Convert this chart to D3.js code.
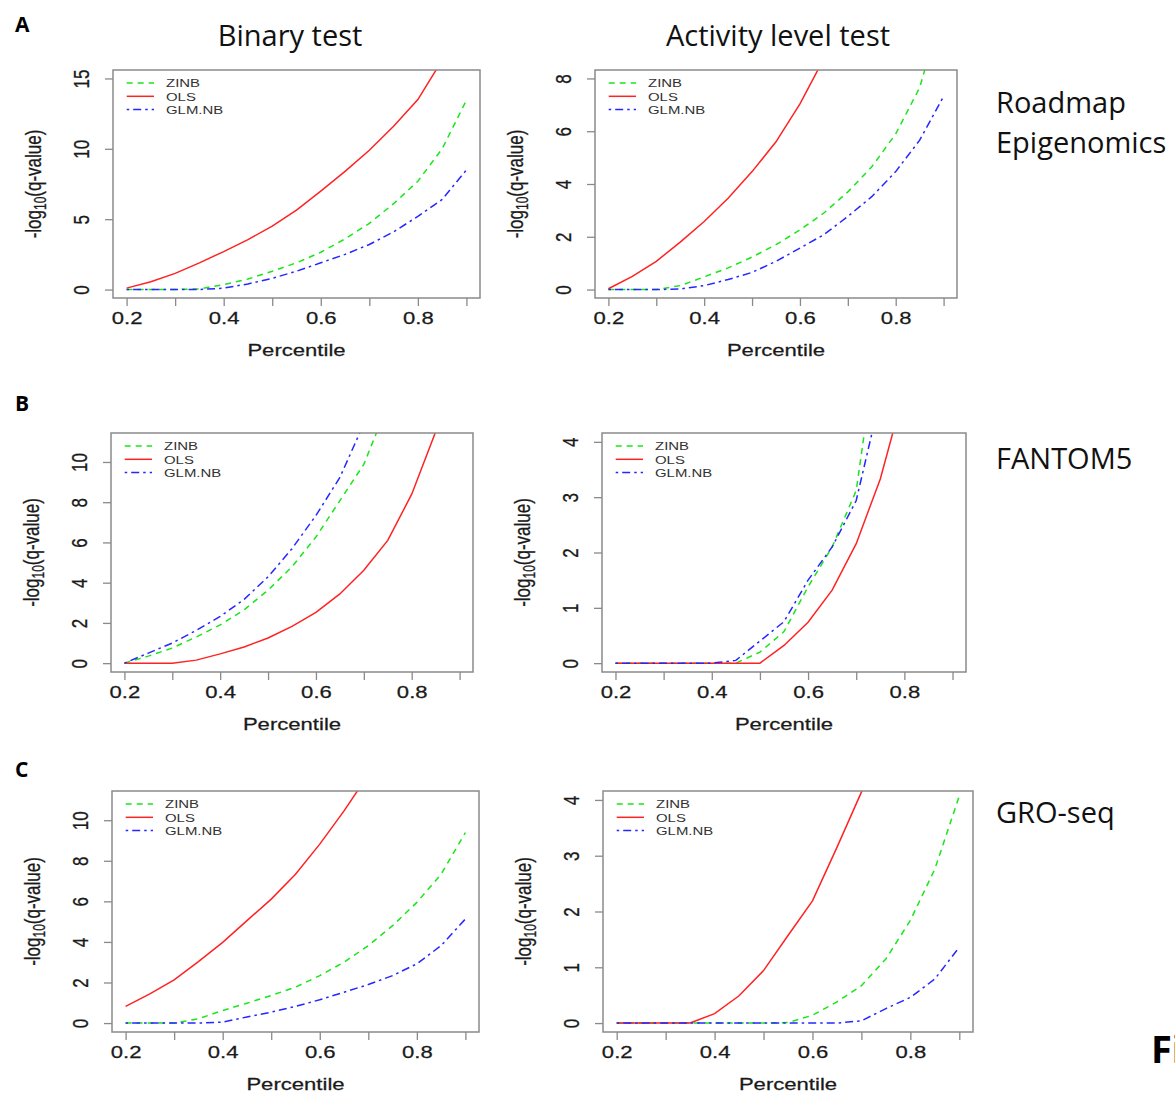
<!DOCTYPE html>
<html>
<head>
<meta charset="utf-8">
<script src="https://cdn.jsdelivr.net/npm/d3@7"></script>
<style>
body { margin: 0; background: #fff; }
</style>
</head>
<body>
<svg></svg>
<script>
// x values shared by every panel
var percentile = [0.2, 0.25, 0.3, 0.35, 0.4, 0.45, 0.5, 0.55, 0.6, 0.65, 0.7, 0.75, 0.8, 0.85, 0.9];
var xTicks = [0.2, 0.3, 0.4, 0.5, 0.6, 0.7, 0.8, 0.9];
var methods = ["ZINB", "OLS", "GLM.NB"];
var colTitles = ["Binary test", "Activity level test"];
var rowLetters = ["A", "B", "C"];
var rowNames = [["Roadmap", "Epigenomics"], ["FANTOM5"], ["GRO-seq"]];

// Roadmap Epigenomics
var roadmapBinaryZINB = [0, 0, 0, 0.05, 0.35, 0.75, 1.3, 1.9, 2.65, 3.6, 4.7, 6.1, 7.7, 10.0, 13.45];
var roadmapBinaryOLS  = [0.1, 0.55, 1.15, 1.9, 2.7, 3.55, 4.5, 5.65, 7.0, 8.4, 9.9, 11.6, 13.5, 16.3, 19.5];
var roadmapBinaryGLM  = [0, 0, 0, 0, 0.1, 0.4, 0.8, 1.3, 1.9, 2.5, 3.2, 4.1, 5.2, 6.4, 8.5];
var roadmapActivityZINB = [0, 0, 0, 0.15, 0.48, 0.82, 1.23, 1.7, 2.26, 2.9, 3.7, 4.65, 5.9, 7.65, 10.8];
var roadmapActivityOLS  = [0.03, 0.5, 1.07, 1.8, 2.58, 3.46, 4.47, 5.6, 7.04, 8.75, 11, 13.5, 16.5, 20, 24];
var roadmapActivityGLM  = [0, 0, 0, 0.02, 0.15, 0.38, 0.65, 1.07, 1.57, 2.08, 2.77, 3.52, 4.47, 5.66, 7.32];
// FANTOM5
var fantomBinaryZINB = [0, 0.35, 0.75, 1.3, 1.9, 2.65, 3.63, 4.79, 6.27, 8.08, 9.88, 12.85, 16, 20, 24];
var fantomBinaryOLS  = [0, 0, 0, 0.15, 0.46, 0.8, 1.25, 1.83, 2.52, 3.44, 4.62, 6.1, 8.4, 11.5, 15];
var fantomBinaryGLM  = [0, 0.5, 1.0, 1.63, 2.32, 3.17, 4.29, 5.69, 7.34, 9.23, 11.9, 15, 19, 23, 28];
var fantomActivityZINB = [0, 0, 0, 0, 0, 0, 0.2, 0.57, 1.38, 2.1, 3.12, 6.2, 9, 12, 15];
var fantomActivityOLS  = [0, 0, 0, 0, 0, 0, 0, 0.32, 0.74, 1.32, 2.16, 3.33, 4.93, 7, 9.5];
var fantomActivityGLM  = [0, 0, 0, 0, 0, 0.05, 0.4, 0.75, 1.5, 2.1, 2.94, 4.8, 7, 9.5, 12];
// GRO-seq
var groBinaryZINB = [0, 0, 0, 0.21, 0.62, 0.98, 1.36, 1.77, 2.34, 3.0, 3.82, 4.8, 5.95, 7.34, 9.39];
var groBinaryOLS  = [0.82, 1.44, 2.13, 3.03, 3.98, 5.05, 6.11, 7.34, 8.82, 10.46, 12.24, 14, 16, 18, 20];
var groBinaryGLM  = [0, 0, 0, 0, 0.05, 0.3, 0.54, 0.82, 1.15, 1.52, 1.9, 2.34, 2.92, 3.82, 5.13];
var groActivityZINB = [0, 0, 0, 0, 0, 0, 0, 0.01, 0.14, 0.38, 0.67, 1.15, 1.84, 2.76, 4.07];
var groActivityOLS  = [0, 0, 0, 0, 0.17, 0.49, 0.94, 1.57, 2.19, 3.15, 4.14, 5.3, 6.5, 8, 9.5];
var groActivityGLM  = [0, 0, 0, 0, 0, 0, 0, 0, 0, 0, 0.04, 0.26, 0.46, 0.79, 1.36];

// y limits and ticks per panel
var yLimits = [15, 8, 11, 4, 11, 4];
var yTicksA1 = [0, 5, 10, 15], yTicksA2 = [0, 2, 4, 6, 8];
var yTicksB1 = [0, 2, 4, 6, 8, 10], yTicksB2 = [0, 1, 2, 3, 4];
var yTicksC1 = [0, 2, 4, 6, 8, 10], yTicksC2 = [0, 1, 2, 3, 4];

var panelSeries = [
	[roadmapBinaryZINB, roadmapBinaryOLS, roadmapBinaryGLM],
	[roadmapActivityZINB, roadmapActivityOLS, roadmapActivityGLM],
	[fantomBinaryZINB, fantomBinaryOLS, fantomBinaryGLM],
	[fantomActivityZINB, fantomActivityOLS, fantomActivityGLM],
	[groBinaryZINB, groBinaryOLS, groBinaryGLM],
	[groActivityZINB, groActivityOLS, groActivityGLM]
];
var panelYTicks = [yTicksA1, yTicksA2, yTicksB1, yTicksB2, yTicksC1, yTicksC2];

// layout: plot box [left, top, right, bottom]
var boxes = [
	[113, 70, 480, 298], [595, 70, 957, 298],
	[111, 433, 473, 672], [602, 433, 966, 672],
	[112, 791, 479, 1032], [603, 791, 973, 1032]
];
var lineColor = ["#19e619", "#ff2222", "#2626ff"];
var lineDash  = ["6,5", null, "2.5,4,8,4"];
var boxGray = "#8a8a8a";
var rFont = "'Liberation Sans', Arial, sans-serif";
var pptFont = "'Open Sans', sans-serif";
var stretch = 1.3;

var width = 1175, height = 1095;
var svg = d3.select("svg").attr("width", width).attr("height", height).style("background-color", "white");

function rStyle(sel, size){
	sel.attr("font-family", rFont).attr("font-size", size).attr("fill", "#1a1a1a")
		.attr("stroke", "#1a1a1a").attr("stroke-width", 0.25);
}

function drawPanel(i){
	var b = boxes[i];
	var ymax = yLimits[i];
	var x = d3.scaleLinear().domain([0.2 - 0.028, 0.9 + 0.028]).range([b[0], b[2]]);
	var y = d3.scaleLinear().domain([-0.04 * ymax, ymax * 1.04]).range([b[3], b[1]]);
	var g = svg.append("g");

	g.append("clipPath").attr("id", "clip" + i)
		.append("rect").attr("x", b[0]).attr("y", b[1]).attr("width", b[2] - b[0]).attr("height", b[3] - b[1]);

	// x axis
	var xa = g.append("g").attr("transform", "translate(0," + b[3] + ")")
		.call(d3.axisBottom(x).tickValues(xTicks).tickSize(8).tickSizeOuter(0)
			.tickFormat(function(d){ return Math.round(d * 10) % 2 == 0 ? d3.format(".1f")(d) : ""; }));
	xa.select(".domain").remove();
	xa.selectAll(".tick line").attr("stroke", boxGray).attr("stroke-width", 1.3);
	xa.selectAll(".tick text")
		.attr("y", 26.5).attr("dy", null)
		.call(rStyle, 17)
		.attr("transform", "scale(" + stretch + ",1)");

	// y axis
	var ya = g.append("g").attr("transform", "translate(" + b[0] + ",0)")
		.call(d3.axisLeft(y).tickValues(panelYTicks[i]).tickSize(8).tickSizeOuter(0).tickFormat(d3.format("d")));
	ya.select(".domain").remove();
	ya.selectAll(".tick line").attr("stroke", boxGray).attr("stroke-width", 1.3);
	ya.selectAll(".tick text")
		.attr("x", null).attr("dy", null).attr("text-anchor", "middle")
		.call(rStyle, 17)
		.attr("transform", "translate(-23.7,0) scale(" + stretch + ",1) rotate(-90)");

	// axis titles
	g.append("text")
		.attr("transform", "translate(" + (b[0] + b[2]) / 2 + "," + (b[3] + 58) + ") scale(" + stretch + ",1)")
		.attr("text-anchor", "middle").call(rStyle, 17)
		.text("Percentile");
	var yl = g.append("text")
		.attr("transform", "translate(" + (b[0] - 72.5) + "," + (b[1] + b[3]) / 2 + ") scale(" + stretch + ",1) rotate(-90)")
		.attr("text-anchor", "middle").call(rStyle, 17);
	yl.append("tspan").text("-log");
	yl.append("tspan").attr("font-size", 12).attr("dy", 4).text("10");
	yl.append("tspan").attr("dy", -4).text("(q-value)");

	// lines
	var line = d3.line().x(function(d, k){ return x(percentile[k]); }).y(function(d){ return y(d); });
	var lines = g.append("g").attr("clip-path", "url(#clip" + i + ")");
	panelSeries[i].forEach(function(s, k){
		lines.append("path").datum(s)
			.attr("d", line)
			.attr("fill", "none")
			.attr("stroke", lineColor[k])
			.attr("stroke-width", 1.5)
			.attr("stroke-dasharray", lineDash[k]);
	});

	// box
	g.append("rect").attr("x", b[0]).attr("y", b[1]).attr("width", b[2] - b[0]).attr("height", b[3] - b[1])
		.attr("fill", "none").attr("stroke", boxGray).attr("stroke-width", 1.5);

	// legend
	methods.forEach(function(m, k){
		var ly = b[1] + 13 + k * 13.3;
		g.append("line").attr("x1", b[0] + 13.7).attr("x2", b[0] + 41).attr("y1", ly).attr("y2", ly)
			.attr("stroke", lineColor[k]).attr("stroke-width", 1.5).attr("stroke-dasharray", lineDash[k]);
		g.append("text")
			.attr("transform", "translate(" + (b[0] + 53) + "," + (ly + 4.2) + ") scale(" + stretch + ",1)")
			.attr("font-family", rFont).attr("font-size", 11.5).attr("fill", "#333")
			.text(m);
	});
}

for (var i = 0; i < boxes.length; i++){
	drawPanel(i);
}

// column titles
var titleX = [290, 778];
colTitles.forEach(function(t, k){
	svg.append("text").attr("x", titleX[k]).attr("y", 45.7).attr("text-anchor", "middle")
		.attr("font-family", pptFont).attr("font-size", 29).attr("fill", "#111").text(t);
});

// row letters
var letterY = [31.7, 410.7, 776.7];
rowLetters.forEach(function(t, k){
	svg.append("text").attr("x", 15).attr("y", letterY[k])
		.attr("font-family", pptFont).attr("font-weight", "bold").attr("font-size", 21).attr("fill", "#000").text(t);
});

// dataset names on the right
var nameY = [113.3, 469, 823];
rowNames.forEach(function(lines, k){
	lines.forEach(function(t, j){
		svg.append("text").attr("x", 996).attr("y", nameY[k] + j * 40)
			.attr("font-family", pptFont).attr("font-size", 29).attr("fill", "#111").text(t);
	});
});

// figure caption, cut off by the right edge as in the source
svg.append("text").attr("x", 1151).attr("y", 1063)
	.attr("font-family", pptFont).attr("font-weight", "bold").attr("font-size", 38).attr("fill", "#000").text("Fi");
</script>
</body>
</html>
